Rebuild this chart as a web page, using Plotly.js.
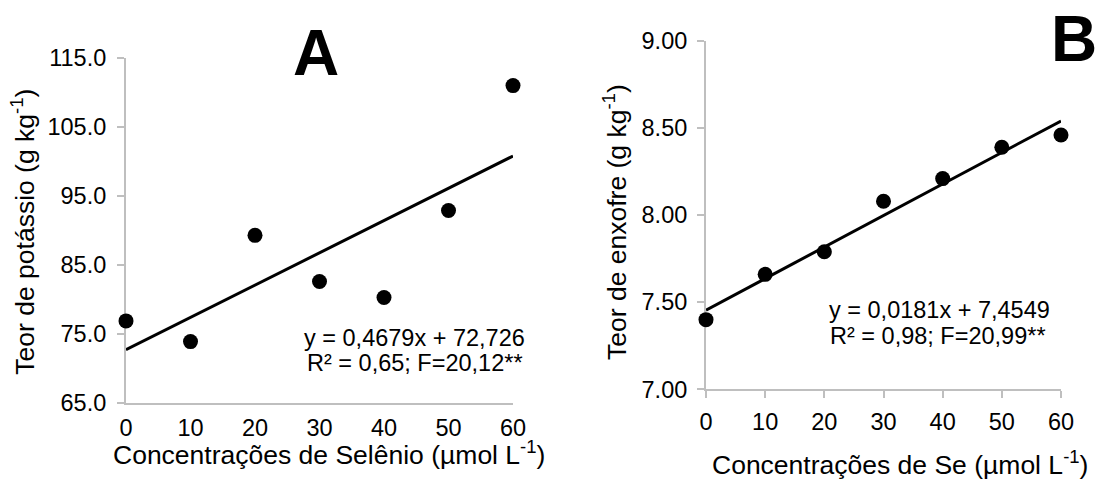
<!DOCTYPE html>
<html>
<head>
<meta charset="utf-8">
<script src="https://cdn.plot.ly/plotly-3.0.1.min.js"></script>
<style>html,body{margin:0;padding:0;background:#fff;}#chart{width:1096px;height:479px;}</style>
</head>
<body>
<div id="chart"></div>
<script>
// Data
const doses = [0, 10, 20, 30, 40, 50, 60];
const potassio = [76.9, 73.9, 89.3, 82.6, 80.3, 92.9, 111.0];
const enxofre = [7.40, 7.66, 7.79, 8.08, 8.21, 8.39, 8.46];
const coefA = [0.4679, 72.726];   // slope, intercept
const coefB = [0.0181, 7.4549];
const tickValsA = [65, 75, 85, 95, 105, 115];
const tickValsB = [7.0, 7.5, 8.0, 8.5, 9.0];
const xTicks = [0, 10, 20, 30, 40, 50, 60];

const xEnds = [doses[0], doses[doses.length - 1]];
const fitA = xEnds.map(x => coefA[0] * x + coefA[1]);
const fitB = xEnds.map(x => coefB[0] * x + coefB[1]);

const FONT = '"Liberation Sans", Arial, sans-serif';
const W = 1096, H = 479;
const px = v => v / W, py = v => 1 - v / H;

const traces = [
  {x: xEnds, y: fitA, xaxis: 'x', yaxis: 'y', mode: 'lines', line: {color: '#000', width: 3}, hoverinfo: 'skip'},
  {x: doses, y: potassio, xaxis: 'x', yaxis: 'y', mode: 'markers', marker: {color: '#000', size: 15}, cliponaxis: false},
  {x: xEnds, y: fitB, xaxis: 'x2', yaxis: 'y2', mode: 'lines', line: {color: '#000', width: 3}, hoverinfo: 'skip'},
  {x: doses, y: enxofre, xaxis: 'x2', yaxis: 'y2', mode: 'markers', marker: {color: '#000', size: 15}, cliponaxis: false}
];

const axisBase = {
  showgrid: false, zeroline: false, showline: true, linecolor: '#bfbfbf', linewidth: 2,
  tickcolor: '#bfbfbf', tickwidth: 2, tickfont: {family: FONT, size: 23.5, color: '#000'},
  layer: 'below traces', fixedrange: true
};

const layout = {
  width: W, height: H,
  margin: {l: 0, r: 0, t: 0, b: 0},
  paper_bgcolor: '#fff', plot_bgcolor: 'rgba(0,0,0,0)',
  showlegend: false,
  font: {family: FONT, color: '#000'},
  xaxis: Object.assign({}, axisBase, {
    domain: [px(126), px(513)], range: [0, 60], tickmode: 'array', tickvals: xTicks,
    ticks: '', ticklabelstandoff: 3, anchor: 'y'
  }),
  yaxis: Object.assign({}, axisBase, {
    domain: [py(403), py(58)], range: [65, 115], tickmode: 'array', tickvals: tickValsA,
    tickformat: '.1f', ticks: 'outside', ticklen: 7, ticklabelstandoff: 6, anchor: 'x'
  }),
  xaxis2: Object.assign({}, axisBase, {
    domain: [px(706), px(1061)], range: [0, 60], tickmode: 'array', tickvals: xTicks,
    ticks: 'outside', ticklen: 7, ticklabelstandoff: 3, anchor: 'y2'
  }),
  yaxis2: Object.assign({}, axisBase, {
    domain: [py(389.3), py(41)], range: [7, 9], tickmode: 'array', tickvals: tickValsB,
    tickformat: '.2f', ticks: 'outside', ticklen: 7, ticklabelstandoff: 5, anchor: 'x2'
  }),
  annotations: [
    {text: '<b>A</b>', x: px(316), y: py(53), xref: 'paper', yref: 'paper', showarrow: false,
     xanchor: 'center', yanchor: 'middle', font: {family: FONT, size: 64, color: '#000'}},
    {text: '<b>B</b>', x: px(1074), y: py(39), xref: 'paper', yref: 'paper', showarrow: false,
     xanchor: 'center', yanchor: 'middle', font: {family: FONT, size: 64, color: '#000'}},
    {text: 'y = 0,4679x + 72,726', x: px(414.7), y: py(338), xref: 'paper', yref: 'paper', showarrow: false,
     xanchor: 'center', yanchor: 'middle', font: {family: FONT, size: 23.5, color: '#000'}},
    {text: 'R² = 0,65; F=20,12**', x: px(415), y: py(363), xref: 'paper', yref: 'paper', showarrow: false,
     xanchor: 'center', yanchor: 'middle', font: {family: FONT, size: 23.5, color: '#000'}},
    {text: 'y = 0,0181x + 7,4549', x: px(939), y: py(310), xref: 'paper', yref: 'paper', showarrow: false,
     xanchor: 'center', yanchor: 'middle', font: {family: FONT, size: 23.5, color: '#000'}},
    {text: 'R² = 0,98; F=20,99**', x: px(938), y: py(336), xref: 'paper', yref: 'paper', showarrow: false,
     xanchor: 'center', yanchor: 'middle', font: {family: FONT, size: 23.5, color: '#000'}},
    {text: 'Concentrações de Selênio (µmol L<sup>-1</sup>)', x: px(329), y: py(453), xref: 'paper', yref: 'paper', showarrow: false,
     xanchor: 'center', yanchor: 'middle', font: {family: FONT, size: 26.5, color: '#000'}},
    {text: 'Concentrações de Se (µmol L<sup>-1</sup>)', x: px(900), y: py(462.5), xref: 'paper', yref: 'paper', showarrow: false,
     xanchor: 'center', yanchor: 'middle', font: {family: FONT, size: 26.5, color: '#000'}},
    {text: 'Teor de potássio (g kg<sup>-1</sup>)', x: px(23), y: py(231.7), xref: 'paper', yref: 'paper', showarrow: false,
     textangle: -90, xanchor: 'center', yanchor: 'middle', font: {family: FONT, size: 26.5, color: '#000'}},
    {text: 'Teor de enxofre (g kg<sup>-1</sup>)', x: px(615), y: py(222), xref: 'paper', yref: 'paper', showarrow: false,
     textangle: -90, xanchor: 'center', yanchor: 'middle', font: {family: FONT, size: 26.5, color: '#000'}}
  ]
};

Plotly.newPlot('chart', traces, layout, {staticPlot: true, displayModeBar: false});
</script>
</body>
</html>
